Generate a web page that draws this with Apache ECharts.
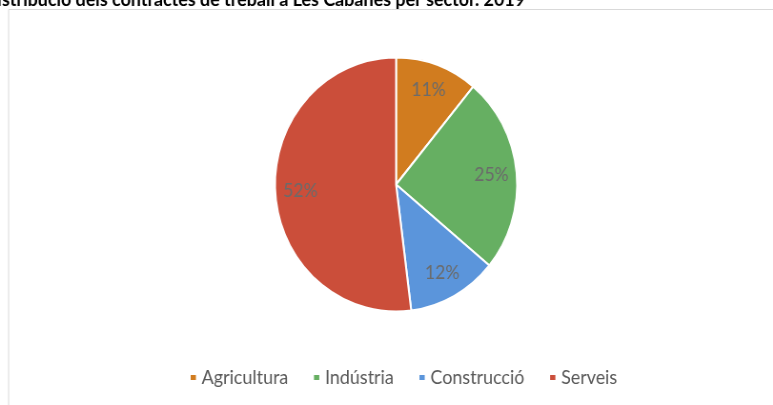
<!DOCTYPE html>
<html>
<head>
<meta charset="utf-8">
<script src="https://cdn.jsdelivr.net/npm/echarts@6/dist/echarts.min.js"></script>
<style>
html,body{margin:0;padding:0;background:#fff;overflow:hidden;width:773px;height:405px;}
#c{width:811px;height:405px;transform:scaleX(0.9532);transform-origin:0 0;}
</style>
</head>
<body>
<div id="c"></div>
<script>
var titleText = 'Distribució dels contractes de treball a Les Cabanes per sector. 2019';
var categories = ['Agricultura', 'Indústria', 'Construcció', 'Serveis'];
var values = [11, 25, 12, 52];
var colors = ['#D17C1F', '#66AF62', '#5B95DB', '#CB4E3A'];

var chart = echarts.init(document.getElementById('c'), null, {renderer: 'canvas'});
var mainData = categories.map(function (c, i) {
  return {name: c, value: values[i], itemStyle: {color: colors[i]}};
});
var labelData = categories.map(function (c, i) {
  return {name: c, value: values[i]};
});
chart.setOption({
  backgroundColor: '#ffffff',
  animation: false,
  graphic: [
    {type: 'rect', silent: true, z: -1,
     shape: {x: 9, y: 9.5, width: 850, height: 450},
     style: {fill: 'none', stroke: '#d9d9d9', lineWidth: 1}},
    {type: 'text', left: -17, top: -9.5,
     style: {text: titleText, font: 'bold 18.8px Lato, sans-serif', fill: '#000000'}}
  ],
  legend: {
    data: categories,
    bottom: 13,
    left: 193,
    icon: 'rect',
    itemWidth: 7.5,
    itemHeight: 7,
    itemGap: 25,
    textStyle: {color: '#595959', fontSize: 18.8, fontFamily: 'Lato, sans-serif'}
  },
  series: [
    {
      type: 'pie',
      center: [415.5, 184.5],
      radius: [0, 127],
      startAngle: 90,
      clockwise: true,
      label: {show: false},
      labelLine: {show: false},
      itemStyle: {borderColor: '#ffffff', borderWidth: 2},
      data: mainData
    },
    {
      type: 'pie',
      center: [415.5, 184.5],
      radius: [68, 127],
      startAngle: 90,
      clockwise: true,
      silent: true,
      legendHoverLink: false,
      itemStyle: {color: 'rgba(0,0,0,0)'},
      label: {show: true, position: 'inside', formatter: '{c}%', color: '#6b6b6b',
              fontSize: 18.5, fontFamily: 'Lato, sans-serif'},
      labelLine: {show: false},
      data: labelData
    }
  ]
});
</script>
</body>
</html>
